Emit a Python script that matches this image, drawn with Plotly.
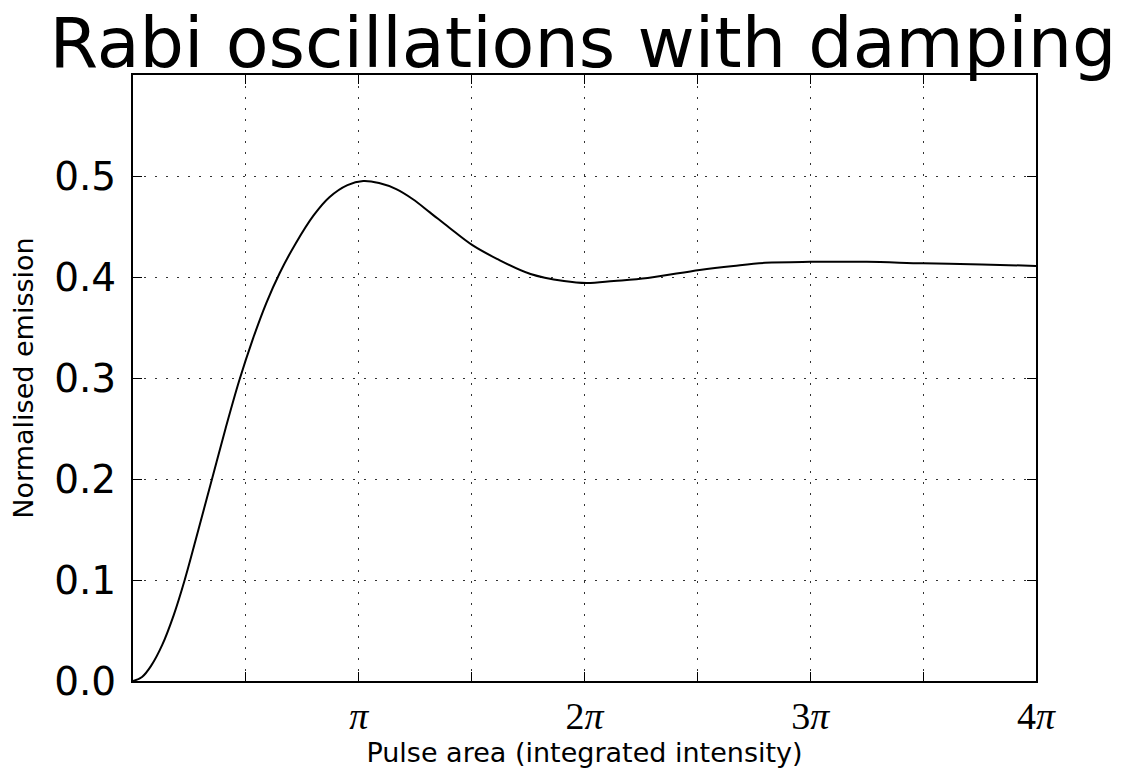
import numpy as np
import plotly.graph_objects as go

# Pulse area in units of pi, and normalised emission
pulse_over_pi = [0.0, 0.04, 0.08, 0.13, 0.18, 0.229, 0.29, 0.35, 0.41, 0.47, 0.53, 0.59, 0.65,
                 0.72, 0.80, 0.87, 0.95, 1.02, 1.09, 1.166, 1.24, 1.315, 1.4, 1.5, 1.612,
                 1.761, 1.909, 2.01, 2.13, 2.28, 2.51, 2.66, 2.80, 3.0, 3.25, 3.5, 3.76, 4.0]
emission = [0.0, 0.004, 0.015, 0.036, 0.065, 0.10, 0.15, 0.20, 0.25, 0.297, 0.338, 0.374, 0.404,
            0.433, 0.461, 0.479, 0.491, 0.495, 0.493, 0.487, 0.477, 0.464, 0.449, 0.432, 0.418,
            0.403, 0.396, 0.394, 0.396, 0.399, 0.407, 0.411, 0.414, 0.415, 0.415, 0.4135, 0.4125, 0.411]

x_tick_multiples = [0, 0.5, 1, 1.5, 2, 2.5, 3, 3.5, 4]
x_tick_labels = ["", "", "<i>π</i>", "", "2<i>π</i>", "", "3<i>π</i>", "", "4<i>π</i>"]
y_tick_vals = [0.0, 0.1, 0.2, 0.3, 0.4, 0.5]
y_tick_labels = ["0.0", "0.1", "0.2", "0.3", "0.4", "0.5"]

x = [v * np.pi for v in pulse_over_pi]

fig = go.Figure()
fig.add_trace(go.Scatter(x=x, y=emission, mode="lines",
                         line=dict(color="black", width=2, shape="spline", smoothing=1.0),
                         showlegend=False, hoverinfo="skip"))

fig.update_layout(
    width=1123, height=769,
    margin=dict(l=133, r=87, t=75, b=88),
    paper_bgcolor="white", plot_bgcolor="white",
    title=dict(text="Rabi oscillations with damping", x=583 / 1123, xanchor="center",
               yref="container", y=1 - 42 / 769, yanchor="middle",
               font=dict(family="DejaVu Sans", size=70, color="black")),
)

grid_dash = "2px,9px"
fig.update_xaxes(
    range=[0, 4 * np.pi], automargin=False,
    tickvals=[v * np.pi for v in x_tick_multiples], ticktext=x_tick_labels,
    tickfont=dict(family="Liberation Serif", size=38, color="black"),
    ticks="inside", ticklen=9, tickwidth=1, tickcolor="black",
    showline=True, linecolor="black", linewidth=2, mirror="ticks",
    showgrid=True, gridcolor="rgba(0,0,0,0.8)", griddash=grid_dash, gridwidth=1.2,
    zeroline=False, ticklabelstandoff=0,
    title=dict(text="Pulse area (integrated intensity)",
               font=dict(family="DejaVu Sans", size=27, color="black"), standoff=8),
)
fig.update_yaxes(
    range=[0, 0.6], automargin=False,
    tickvals=y_tick_vals, ticktext=y_tick_labels,
    tickfont=dict(family="DejaVu Sans", size=39, color="black"),
    ticks="inside", ticklen=9, tickwidth=1, tickcolor="black",
    showline=True, linecolor="black", linewidth=2, mirror="ticks",
    showgrid=True, gridcolor="rgba(0,0,0,0.8)", griddash=grid_dash, gridwidth=1.2,
    zeroline=False, ticklabelstandoff=7,
    title=dict(text="Normalised emission",
               font=dict(family="DejaVu Sans", size=27, color="black"), standoff=13),
)

fig.write_html("out.html")
